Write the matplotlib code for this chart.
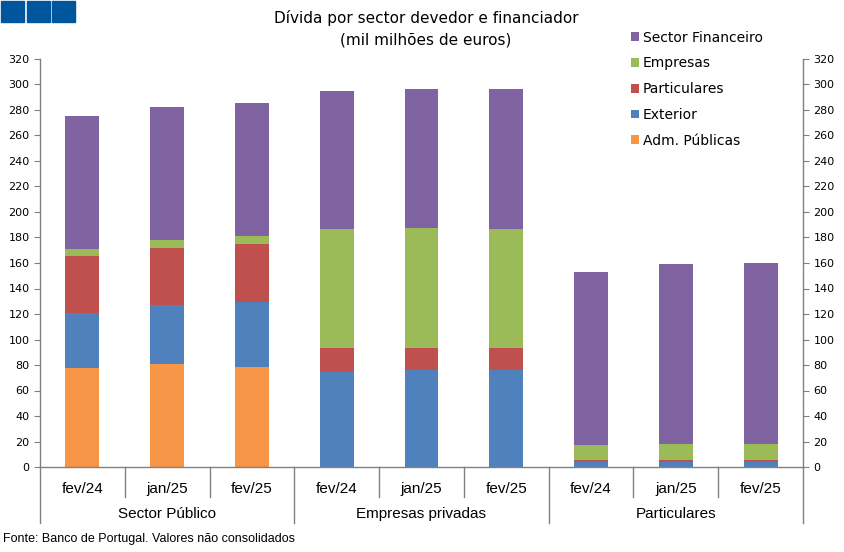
import matplotlib
matplotlib.use("Agg")
import matplotlib.pyplot as plt
import matplotlib.transforms as mtransforms
from matplotlib.patches import Rectangle
import numpy as np

# ---- data ----
periods = ["fev/24", "jan/25", "fev/25"] * 3
groups = ["Sector Público", "Empresas privadas", "Particulares"]
series_names = ["Adm. Públicas", "Exterior", "Particulares", "Empresas", "Sector Financeiro"]
adm_publicas = [77.3, 81.0, 78.1, 0.3, 0.3, 0.3, 0.2, 0.2, 0.2]
exterior = [43.1, 46.0, 51.4, 74.2, 75.7, 75.7, 3.6, 3.6, 3.6]
particulares = [45.4, 45.1, 45.7, 18.5, 17.7, 17.0, 1.9, 2.0, 2.0]
empresas = [5.0, 5.8, 5.8, 94.0, 94.1, 94.0, 11.8, 12.2, 12.2]
sector_financeiro = [104.5, 104.2, 104.3, 107.7, 108.4, 109.2, 135.8, 141.3, 142.1]
colors = ["#F79646", "#4F81BD", "#C0504D", "#9BBB59", "#8064A2"]
yticks = list(range(0, 321, 20))

narrow = ["Liberation Sans Narrow", "Liberation Sans", "DejaVu Sans"]

fig = plt.figure(figsize=(8.45, 5.52), dpi=100)
ax = fig.add_axes([40/845, 1-467/552, (803-40)/845, (467-59)/552])

x = np.arange(len(periods))
data = [adm_publicas, exterior, particulares, empresas, sector_financeiro]
bottom = np.zeros(len(periods))
handles = []
for vals, c, name in zip(data, colors, series_names):
    b = ax.bar(x, vals, width=0.4, bottom=bottom, color=c, edgecolor="none", label=name)
    handles.append(b)
    bottom += np.array(vals)

ax.set_xlim(-0.5, len(periods) - 0.5)
ax.set_ylim(0, 320)
ax.set_yticks(yticks)
ax.tick_params(axis="y", labelsize=8, length=4, color="#808080", labelcolor="#000000",
               left=True, right=True, labelleft=True, labelright=True, direction="out")
ax.set_xticks([])
ax.spines["top"].set_visible(False)
for s in ["left", "right", "bottom"]:
    ax.spines[s].set_color("#808080")
    ax.spines[s].set_linewidth(1)

# category axis separators and labels
trans = mtransforms.blended_transform_factory(ax.transData, fig.transFigure)
for i in range(len(periods) + 1):
    xb = i - 0.5
    y_end = 1 - 523/552 if i % 3 == 0 else 1 - 497/552
    ax.add_line(plt.Line2D([xb, xb], [1 - 467/552, y_end], transform=trans,
                           color="#808080", lw=1, clip_on=False))
for i, p in enumerate(periods):
    ax.text(i, 1 - 489/552, p, transform=trans, ha="center", va="center",
            fontsize=11, family=narrow)
for g, name in enumerate(groups):
    ax.text(g * 3 + 1, 1 - 514/552, name, transform=trans, ha="center", va="center",
            fontsize=11, family=narrow)

# title
fig.text(426/845, 1 - 18/552, "Dívida por sector devedor e financiador", ha="center",
         va="center", fontsize=11)
fig.text(426/845, 1 - 40/552, "(mil milhões de euros)", ha="center", va="center", fontsize=11)

# legend
leg = fig.legend(handles[::-1], series_names[::-1], loc="upper left",
                 bbox_to_anchor=(625/845, 1 - 25/552), frameon=False, fontsize=10,
                 handlelength=0.6, handleheight=0.6, handletextpad=0.3,
                 labelspacing=0.85, borderaxespad=0)

# footer
fig.text(3/845, 1 - 539/552, "Fonte: Banco de Portugal. Valores não consolidados",
         ha="left", va="center", fontsize=9, family=narrow)

# logo squares
for i in range(3):
    fig.add_artist(Rectangle(((1 + i * 25.5)/845, 1 - 22/552), 23/845, 21/552,
                             transform=fig.transFigure, color="#00569C"))

fig.savefig("out.png", dpi=100)
